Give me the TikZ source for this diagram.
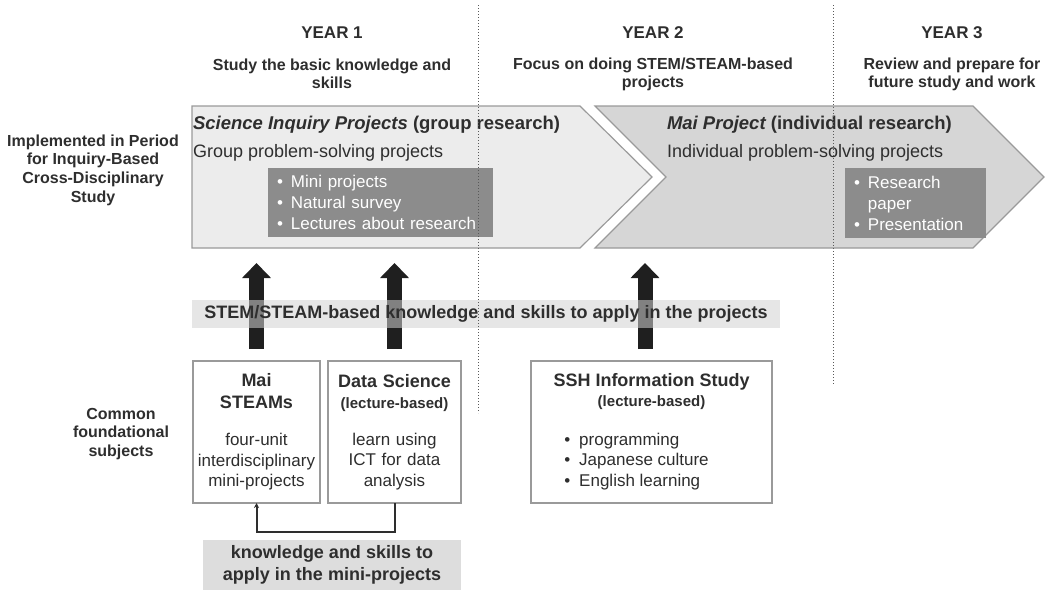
\documentclass[tikz,border=0pt]{standalone}
\usepackage{fontspec}
\setmainfont{Liberation Sans}
\usetikzlibrary{arrows.meta}
\setlength{\parindent}{0pt}

\definecolor{ink}{HTML}{2E2E2E}
\definecolor{lightfill}{HTML}{ECECEC}
\definecolor{midfill}{HTML}{D6D6D6}
\definecolor{edge}{HTML}{9A9A9A}
\definecolor{darkfill}{HTML}{8C8C8C}
\definecolor{bandfill}{HTML}{D2D2D2}

\begin{document}
\begin{tikzpicture}[x=1pt, y=-1pt,
    every node/.style={text=ink, inner sep=0pt, outer sep=0pt},
    head/.style={font=\fontsize{17}{20}\selectfont\bfseries},
    aim/.style={font=\fontsize{16}{18}\selectfont\bfseries, align=center},
    side/.style={font=\fontsize{16}{18.7}\selectfont\bfseries, align=center},
    ptitle/.style={font=\fontsize{18.5}{22}\selectfont\bfseries, anchor=west},
    psub/.style={font=\fontsize{18}{22}\selectfont, anchor=west},
    chev/.style={draw=edge, line width=1.2pt},
    bullets/.style={fill=darkfill, text=white, font=\fontsize{17}{21}\selectfont,
        anchor=north west, inner xsep=9pt, align=left},
    subject/.style={draw=edge, line width=1.5pt, fill=white, minimum height=142pt,
        font=\fontsize{17}{20.5}\selectfont, align=center},
    strip/.style={fill=bandfill, font=\fontsize{18}{22}\selectfont\bfseries, align=center},
    bigarrow/.style={draw=black!88, line width=15pt, -{Triangle[width=28pt,length=15pt]}},
    feed/.style={draw=ink, line width=2pt, -{Stealth[length=5pt,width=5pt]}},
    yearline/.style={draw=black!65, dotted, line width=1pt}
]

    % parameters
    \def\chtop{106}      % upper edge of the chevrons
    \def\chbot{248}      % lower edge
    \def\chmid{177}      % height of the points

    \useasboundingbox (0,0) rectangle (1048,589);

    % --- Chevrons ---
    \draw[chev, fill=lightfill] (192,\chtop) -- (580,\chtop) -- (652,\chmid) -- (580,\chbot) -- (192,\chbot) -- cycle;
    \draw[chev, fill=midfill] (595,\chtop) -- (973,\chtop) -- (1044,\chmid) -- (973,\chbot) -- (595,\chbot) -- (666,\chmid) -- cycle;

    % --- Year headings ---
    \foreach \i/\x in {1/332, 2/653, 3/952} {%
        \node[head] (year\i) at (\x,33) {YEAR \i};
    }
    \node[aim] (aim1) at (332,74) {Study the basic knowledge and\\skills};
    \node[aim] (aim2) at (653,74) {Focus on doing STEM/STEAM-based\\projects};
    \node[aim] (aim3) at (952,74) {Review and prepare for\\future study and work};

    % --- Row labels ---
    \node[side] (period) at (93,170) {Implemented in Period\\for Inquiry-Based\\Cross-Disciplinary\\Study};
    \node[side] (common) at (121,434) {Common\\foundational\\subjects};

    % --- Project texts ---
    \node[ptitle] (sip) at (193,125) {\itshape Science Inquiry Projects\upshape\ (group research)};
    \node[psub] (gps) at (193,153) {Group problem-solving projects};
    \node[bullets, text width=207pt, minimum height=69pt] (list1) at (268,168)
        {\textbullet\hspace{8pt}Mini projects\\\textbullet\hspace{8pt}Natural survey\\\textbullet\hspace{8pt}Lectures about research};

    \node[ptitle] (mp) at (667,125) {\itshape Mai Project\upshape\ (individual research)};
    \node[psub] (ips) at (667,153) {Individual problem-solving projects};
    \node[bullets, text width=123pt, minimum height=70pt] (list2) at (845,168)
        {\textbullet\hspace{8pt}Research\\\phantom{\textbullet}\hspace{8pt}paper\\\textbullet\hspace{8pt}Presentation};

    % --- Foundational subjects ---
    \node[subject, minimum width=127pt, text width=123pt] (mai) at (256.5,432)
        {{\bfseries\fontsize{18}{22}\selectfont Mai\\STEAMs\par}\vspace{16.5pt}four-unit\\interdisciplinary\\mini-projects};
    \node[subject, minimum width=133pt, text width=129pt] (ds) at (394.5,432)
        {{\bfseries\fontsize{18}{22}\selectfont Data Science\par}{\bfseries\fontsize{15}{21}\selectfont (lecture-based)\par}\vspace{16.5pt}learn using\\ICT for data\\analysis};
    \node[subject, minimum width=241pt] (ssh) at (651.5,432)
        {\begin{tabular}{@{}c@{}}
            \bfseries\fontsize{18}{20.5}\selectfont SSH Information Study\\
            \bfseries\fontsize{15}{20.5}\selectfont (lecture-based)\\[18pt]
            \begin{tabular}[t]{@{}l@{}}
                \textbullet\hspace{9pt}programming\\
                \textbullet\hspace{9pt}Japanese culture\\
                \textbullet\hspace{9pt}English learning
            \end{tabular}\hspace*{30pt}
        \end{tabular}};

    % feedback from Data Science into Mai STEAMs
    \node[strip, minimum width=258pt, minimum height=50pt, fill=bandfill!75!white] (minilabel) at (332,565)
        {knowledge and skills to\\apply in the mini-projects};
    \draw[feed] (ds.south) -- ++(0,29) -| (mai.south);

    % --- Arrows up into the projects ---
    \coordinate (in1) at (256.5,263);
    \coordinate (in2) at (394.5,263);
    \coordinate (in3) at (645,263);
    \foreach \src/\dst/\dx in {mai/in1/0, ds/in2/0, ssh/in3/-6.5} {%
        \draw[bigarrow] ([xshift=\dx pt, yshift=12pt]\src.north) -- (\dst);
    }
    \node[strip, minimum width=588pt, minimum height=28pt, fill opacity=0.55, text opacity=1] (band) at (486,314)
        {STEM/STEAM-based knowledge and skills to apply in the projects};

    % --- Year borders ---
    \draw[yearline] (478,5) -- (478,413);
    \draw[yearline] (833,5) -- (833,385);

\end{tikzpicture}
\end{document}
